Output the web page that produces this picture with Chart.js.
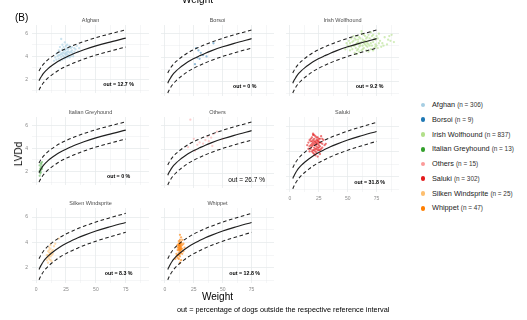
<!DOCTYPE html>
<html><head><meta charset="utf-8">
<script src="https://cdn.jsdelivr.net/npm/chart.js@4.4.1/dist/chart.umd.min.js"></script>
<style>
html,body{margin:0;padding:0;background:#fff;width:527px;height:320px;overflow:hidden;font-family:"Liberation Sans",Arial,sans-serif;}
#wrap{position:relative;width:527px;height:320px;overflow:hidden;}
canvas{position:absolute;}
.t{position:absolute;white-space:nowrap;color:#000;line-height:1;}
.lg{position:absolute;left:423px;white-space:nowrap;line-height:1;}
.lg .dot{position:absolute;left:-2.3px;top:-2.3px;width:4.6px;height:4.6px;border-radius:50%;}
.lg .lab{position:absolute;left:9px;top:0;transform:translateY(-50%);font-size:7.3px;color:#222;}
.lg .n{font-size:6.4px;color:#333;}
</style></head><body><div id="wrap"></div>
<script>
// ---------------- data ----------------
const breeds = ["Afghan","Borsoi","Irish Wolfhound","Italian Greyhound","Others","Saluki","Silken Windsprite","Whippet"];
const counts = [306, 9, 837, 13, 15, 302, 25, 47];
const outPct = ["12.7","0","9.2","0","26.7","31.8","8.3","12.8"];
const xTickValues = [0, 25, 50, 75];
const xTickLabels = ["0","25","50","75"];
const yTickValues = [2, 4, 6];
const yTickLabels = ["2","4","6"];
// reference curve
const curveWeight = [2.5, 3, 4, 5, 6, 8, 10, 13, 16, 20, 25, 30, 35, 40, 50, 60, 75];
const curveMean   = [1.87,1.98,2.17,2.33,2.48,2.72,2.92,3.17,3.39,3.65,3.92,4.15,4.37,4.56,4.90,5.19,5.58];
const curveUpper  = [2.72,2.82,3.00,3.15,3.29,3.52,3.71,3.95,4.16,4.41,4.67,4.89,5.10,5.28,5.61,5.90,6.30];
const curveLower  = [1.05,1.17,1.36,1.52,1.67,1.91,2.11,2.36,2.58,2.85,3.12,3.35,3.57,3.76,4.10,4.39,4.80];
// points (weight, LVDd)
const afghanPts = [[20,4.1],[22,4.3],[24,4.2],[26,4.4],[28,4.3],[23,4.0],[25,4.1],[27,4.6],[21,3.9],[19,3.8],[18,4.0],[30,4.5],[32,4.4],[29,4.7],[24,4.5],[26,3.9],[22,4.6],[20,4.4],[17,3.7],[16,3.9],[23,4.8],[25,4.9],[27,4.1],[31,4.2],[33,4.6],[35,4.4],[28,4.9],[21,4.2],[19,4.5],[24,3.8],[26,4.2],[22,3.7],[29,4.0],[30,4.8],[34,4.9],[36,4.7],[25,4.6],[23,4.3],[20,3.6],[18,4.3],[27,4.4],[22,5.0],[24,5.2],[21,5.5],[15,3.6],[28,3.9],[31,4.0],[26,4.7],[19,4.1],[23,4.5],[25,4.3],[27,4.0],[24,3.9],[22,4.1],[30,4.3],[32,4.7],[20,4.8],[17,4.2],[29,4.4],[26,5.0]];
const borsoiPts = [[27,4.8],[29,4.6],[26,3.45],[30,3.9],[33,4.2],[36,4.1],[42,5.2],[28,4.0],[31,4.4]];
const irishPts = [[55,5.0],[58,5.2],[60,4.9],[62,5.3],[65,5.1],[68,5.4],[70,5.2],[57,4.8],[59,5.5],[61,5.0],[63,4.7],[66,5.6],[64,5.2],[67,4.9],[69,5.0],[72,5.3],[74,5.5],[53,4.9],[54,5.3],[56,5.6],[52,4.6],[50,5.0],[51,5.4],[48,4.7],[49,5.2],[71,5.8],[73,4.8],[75,5.0],[76,5.6],[78,5.4],[80,5.2],[82,5.7],[85,5.5],[88,5.9],[90,5.3],[77,6.0],[79,4.9],[58,5.8],[60,5.7],[62,6.0],[64,5.9],[66,4.6],[68,4.5],[60,4.5],[56,4.4],[63,5.5],[65,5.4],[67,5.7],[61,5.6],[59,4.7],[57,5.1],[55,5.4],[54,4.7],[53,5.6],[70,4.7],[72,5.9],[74,5.1],[69,5.6],[71,5.0],[73,5.6],[66,5.0],[64,4.8],[62,4.6],[58,4.6],[61,5.2],[63,5.0],[65,5.8],[67,5.2],[59,5.3],[57,5.5],[56,5.0],[68,5.9],[70,6.1],[75,5.8],[77,5.2],[81,5.0],[84,5.1],[86,5.8],[62,6.2],[55,5.8],[52,5.2],[51,4.9],[60,5.1],[64,5.4],[66,5.3],[68,5.1],[72,4.6],[74,4.9],[76,4.8],[58,4.3],[87,5.4]];
const italianPts = [[3,2.0],[4,2.3],[3.5,1.8],[4.5,2.6],[3,1.6],[4,2.1],[5,2.8],[3.5,2.2],[4,1.9],[4.5,2.4],[3,2.5],[5,2.2],[4,2.7]];
const othersPts = [[22,6.5],[45,5.5],[37,5.1],[41,4.3],[25,4.9],[30,4.6],[35,4.8],[28,4.4],[40,5.0],[33,4.5],[20,4.2],[50,4.9],[26,3.9],[38,4.7],[42,5.3]];
const salukiPts = [[20,4.5],[22,4.7],[24,4.6],[21,4.3],[23,4.9],[25,4.8],[19,4.6],[18,4.2],[26,4.4],[22,4.2],[20,4.9],[24,5.1],[21,5.0],[23,4.4],[25,4.3],[27,4.7],[19,4.0],[17,4.4],[16,4.7],[22,5.2],[20,5.3],[24,4.1],[26,5.0],[28,4.6],[18,4.8],[21,4.6],[23,4.6],[22,4.0],[25,4.5],[19,4.4],[20,4.1],[24,4.8],[26,4.7],[21,3.8],[23,3.9],[27,4.2],[29,4.9],[30,4.5],[17,4.0],[15,4.5],[18,5.0],[20,3.9],[22,4.5],[24,4.3],[23,5.1],[25,5.0],[21,4.8],[19,5.1],[27,5.2],[28,4.3],[22,3.7],[20,4.7],[18,4.5],[24,4.9],[26,4.1],[21,4.1],[23,4.2],[25,4.7],[19,4.8],[22,4.8],[31,4.6],[16,4.2],[20,5.4],[24,3.6],[26,3.8],[28,5.0],[17,4.9],[21,5.3],[23,4.7],[25,4.1]];
const silkenPts = [[10,3.0],[11,3.2],[12,2.9],[11,2.7],[13,3.3],[12,3.5],[10,2.8],[9,2.6],[12,3.1],[14,3.4],[11,3.6],[13,2.5],[10,3.3],[12,2.6],[15,3.7],[11,2.9],[13,3.0],[12,3.8],[9,3.0],[14,3.1],[16,3.9],[19,4.3],[10,2.4],[12,3.2],[11,3.4]];
const whippetPts = [[12,3.5],[13,3.7],[14,3.6],[12,3.9],[13,3.3],[14,4.0],[11,3.4],[15,3.8],[13,3.6],[12,3.2],[14,3.4],[13,4.2],[12,3.7],[11,3.0],[15,3.5],[13,3.8],[14,3.2],[12,3.6],[13,2.9],[16,3.9],[10,3.1],[14,4.4],[13,4.6],[12,2.7],[11,3.6],[15,3.1],[13,3.4],[14,3.7],[12,3.4],[13,4.0],[16,3.3],[11,2.8],[12,4.1],[14,2.6],[13,3.1],[15,4.2],[10,2.9],[12,3.0],[14,3.9],[13,3.5],[11,3.8],[13,2.4],[17,3.6],[12,3.8],[14,3.5],[9,2.7],[13,3.9]];
const panelPoints = [afghanPts, borsoiPts, irishPts, italianPts, othersPts, salukiPts, silkenPts, whippetPts];

// ---------------- style / layout ----------------
const colors = ["#a6cee3","#1f78b4","#b2df8a","#33a02c","#fb9a99","#e31a1c","#fdbf6f","#ff7f00"];
const pointAlpha = [0.6, 0.5, 0.6, 0.45, 0.5, 0.6, 0.55, 0.6];
const FONT = '"Liberation Sans", Arial, sans-serif';
const colLeft = [32, 157, 282], rowTop = [25, 117, 208];
const PW = 121, PH = 75, TH = 9;
const X_MIN = -3.4, X_MAX = 94.4, Y_MIN = 0.8, Y_MAX = 6.72;
const xGrid = [0, 12.5, 25, 37.5, 50, 62.5, 75, 87.5];
const yGrid = [1, 2, 3, 4, 5, 6];
const LABEL_X = 69, LABEL_Y = 1.55;

function rgba(hex, a){const n=parseInt(hex.slice(1),16);return `rgba(${n>>16},${(n>>8)&255},${n&255},${a})`;}

const panelText = {
  id:'panelText',
  afterDraw(chart, args, o){
    const c = chart.ctx, a = chart.chartArea;
    c.save();
    c.textAlign='center'; c.textBaseline='middle';
    c.fillStyle='#4d4d4d'; c.font = `5.5px ${FONT}`;
    c.fillText(o.title, (a.left+a.right)/2, a.top-5);
    const px = chart.scales.x.getPixelForValue(LABEL_X), py = chart.scales.y.getPixelForValue(LABEL_Y);
    c.fillStyle='#000';
    c.font = o.plain ? `6.5px ${FONT}` : `bold 5.3px ${FONT}`;
    c.fillText('out = ' + o.pct + ' %', px + (o.plain?2:0), py + (o.plain?1:0));
    c.restore();
  }
};

const wrap = document.getElementById('wrap');
breeds.forEach((name, i) => {
  const col = i % 3, row = Math.floor(i / 3);
  const showY = col === 0;
  const showX = row === 2 || (row === 1 && col === 2);
  const YW = showY ? 11 : 0, XH = showX ? 11 : 0;
  const cv = document.createElement('canvas');
  const W = PW + YW, H = TH + PH + XH;
  cv.width = W; cv.height = H;
  cv.style.left = (colLeft[col] - YW) + 'px';
  cv.style.top = (rowTop[row] - TH) + 'px';
  cv.style.width = W + 'px'; cv.style.height = H + 'px';
  wrap.appendChild(cv);
  const line = (ys, dash, w) => ({
    type:'line', data: curveWeight.map((x, k) => ({x, y: ys[k]})),
    showLine:true, pointRadius:0, borderColor:'#1f1f1f', borderWidth:w,
    borderDash:dash, cubicInterpolationMode:'monotone', fill:false
  });
  new Chart(cv, {
    type:'scatter',
    data:{datasets:[
      line(curveMean, [], 1.15),
      line(curveUpper, [3.6, 2.6], 1.05),
      line(curveLower, [3.6, 2.6], 1.05),
      {type:'scatter', data: panelPoints[i].map(p => ({x:p[0], y:p[1]})),
       pointRadius:1.15, pointBorderWidth:0, backgroundColor: rgba(colors[i], pointAlpha[i]), borderColor:'transparent'}
    ]},
    options:{
      responsive:false, animation:false, devicePixelRatio:1,
      layout:{padding:{top:TH, left:0, right:0, bottom:0}},
      plugins:{legend:{display:false}, tooltip:{enabled:false},
        panelText:{title:name, pct: outPct[i], plain: i === 4}},
      scales:{
        x:{type:'linear', min:X_MIN, max:X_MAX, border:{display:false},
           afterBuildTicks: s => { s.ticks = xGrid.map(v => ({value:v})); },
           afterFit: s => { s.height = XH; },
           grid:{drawTicks:false, color:'#e6e9eb', lineWidth: c => (c.tick && xTickValues.includes(c.tick.value)) ? 0.75 : 0.4},
           ticks:{display:showX, autoSkip:false, maxRotation:0, padding:4, color:'#8a8a8a',
             font:{size:5, family:FONT},
             callback: v => { const k = xTickValues.indexOf(v); return k >= 0 ? xTickLabels[k] : ''; }}},
        y:{type:'linear', min:Y_MIN, max:Y_MAX, border:{display:false},
           afterBuildTicks: s => { s.ticks = yGrid.map(v => ({value:v})); },
           afterFit: s => { s.width = YW; },
           grid:{drawTicks:false, color:'#e6e9eb', lineWidth: c => (c.tick && yTickValues.includes(c.tick.value)) ? 0.75 : 0.4},
           ticks:{display:showY, autoSkip:false, padding:4, color:'#8a8a8a',
             font:{size:5, family:FONT},
             callback: v => { const k = yTickValues.indexOf(v); return k >= 0 ? yTickLabels[k] : ''; }}}
      }
    },
    plugins:[panelText]
  });
});

// legend
const legendTop = 105, legendStep = 14.75;
breeds.forEach((name, i) => {
  const d = document.createElement('div');
  d.className = 'lg';
  d.style.top = (legendTop + i * legendStep) + 'px';
  d.innerHTML = `<div class="dot" style="background:${colors[i]}"></div><div class="lab">${name} <span class="n">(n = ${counts[i]})</span></div>`;
  wrap.appendChild(d);
});

// texts
function addText(txt, css){const d=document.createElement('div');d.className='t';d.textContent=txt;Object.assign(d.style,css);wrap.appendChild(d);}
addText('(B)', {left:'15px', top:'12.5px', fontSize:'10px'});
addText('Weight', {left:'197.5px', top:'-5.5px', fontSize:'10px', transform:'translateX(-50%)'});
addText('LVDd', {left:'19px', top:'154px', fontSize:'10px', transform:'translate(-50%,-50%) rotate(-90deg)'});
addText('Weight', {left:'217.5px', top:'297px', fontSize:'10px', transform:'translate(-50%,-50%)'});
addText('out = percentage of dogs outside the respective reference interval', {left:'177px', top:'309.5px', fontSize:'7.3px', transform:'translateY(-50%)'});
</script></body></html>
